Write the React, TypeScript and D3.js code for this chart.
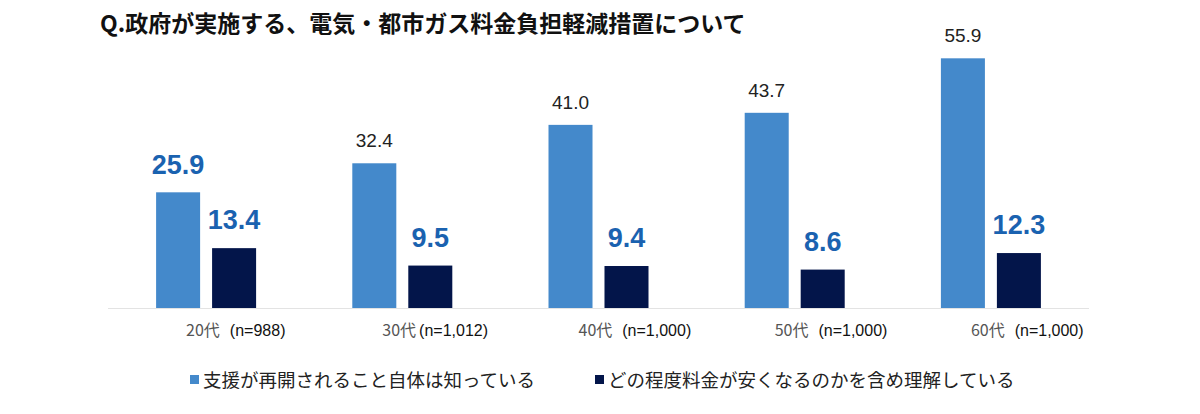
import React from "react";
import * as d3 from "d3";

const categories = ["20代", "30代", "40代", "50代", "60代"];
const sampleLabels = ["(n=988)", "(n=1,012)", "(n=1,000)", "(n=1,000)", "(n=1,000)"];
const knowValues = [25.9, 32.4, 41.0, 43.7, 55.9];
const understandValues = [13.4, 9.5, 9.4, 8.6, 12.3];
const seriesNames = ["支援が再開されること自体は知っている", "どの程度料金が安くなるのかを含め理解している"];
const title = "Q.政府が実施する、電気・都市ガス料金負担軽減措置について";

const W = 1200;
const H = 414;
const LIGHT = "#4489cb";
const DARK = "#03154a";
const VALUE_BLUE = "#1a62b0";
const JP = "'Noto Sans CJK JP', 'Noto Sans', sans-serif";
const NUM = "'Liberation Sans', Arial, sans-serif";

export default function App() {
  const x = d3.scaleBand<string>().domain(categories).range([108, 1089]);
  const groupW = 100;
  const sub = d3.scaleBand<string>().domain(["a", "b"]).range([0, groupW]).paddingInner(0.214);
  const y = d3.scaleLinear().domain([0, 60]).range([308, 40]);
  const off = (x.bandwidth() - groupW) / 2;

  return (
    <svg width={W} height={H} style={{ position: "fixed", left: 0, top: 0, display: "block", background: "#fff" }}>
      <rect width={W} height={H} fill="#fff" />
      <text x={100} y={32} fontFamily={JP} fontWeight={700} fontSize={23} fill="#111">{title}</text>
      <line x1={108} x2={1089} y1={308.5} y2={308.5} stroke="#e3e3e3" strokeWidth={1} />
      {categories.map((c, i) => {
        const gx = (x(c) ?? 0) + off;
        const ax = gx + (sub("a") ?? 0);
        const bx = gx + (sub("b") ?? 0);
        const bw = sub.bandwidth();
        const kv = knowValues[i];
        const uv = understandValues[i];
        const first = i === 0;
        return (
          <g key={c}>
            <rect x={ax} y={y(kv)} width={bw} height={y(0) - y(kv)} fill={LIGHT} />
            <rect x={bx} y={y(uv)} width={bw} height={y(0) - y(uv)} fill={DARK} />
            <text
              x={ax + bw / 2}
              y={y(kv) - (first ? 18 : 16)}
              textAnchor="middle"
              fontFamily={NUM}
              fontWeight={first ? 700 : 400}
              fontSize={first ? 27 : 19}
              fill={first ? VALUE_BLUE : "#222"}
            >
              {kv.toFixed(1)}
            </text>
            <text
              x={bx + bw / 2}
              y={y(uv) - 19}
              textAnchor="middle"
              fontFamily={NUM}
              fontWeight={700}
              fontSize={27}
              fill={VALUE_BLUE}
            >
              {uv.toFixed(1)}
            </text>
            <text x={(x(c) ?? 0) + x.bandwidth() / 2 - 20} y={336} fontFamily={JP} fontSize={16} fill="#333">
              <tspan fill="#555">{c}</tspan>
              <tspan dx={i === 1 ? 3 : 10} fontFamily={NUM} fill="#111">{sampleLabels[i]}</tspan>
            </text>
          </g>
        );
      })}
      {seriesNames.map((s, i) => {
        const lx = i === 0 ? 190 : 595;
        return (
          <g key={s}>
            <rect x={lx} y={375} width={9} height={9} fill={i === 0 ? LIGHT : DARK} />
            <text x={lx + 13} y={387} fontFamily={JP} fontSize={18.5} fill="#222">{s}</text>
          </g>
        );
      })}
    </svg>
  );
}
